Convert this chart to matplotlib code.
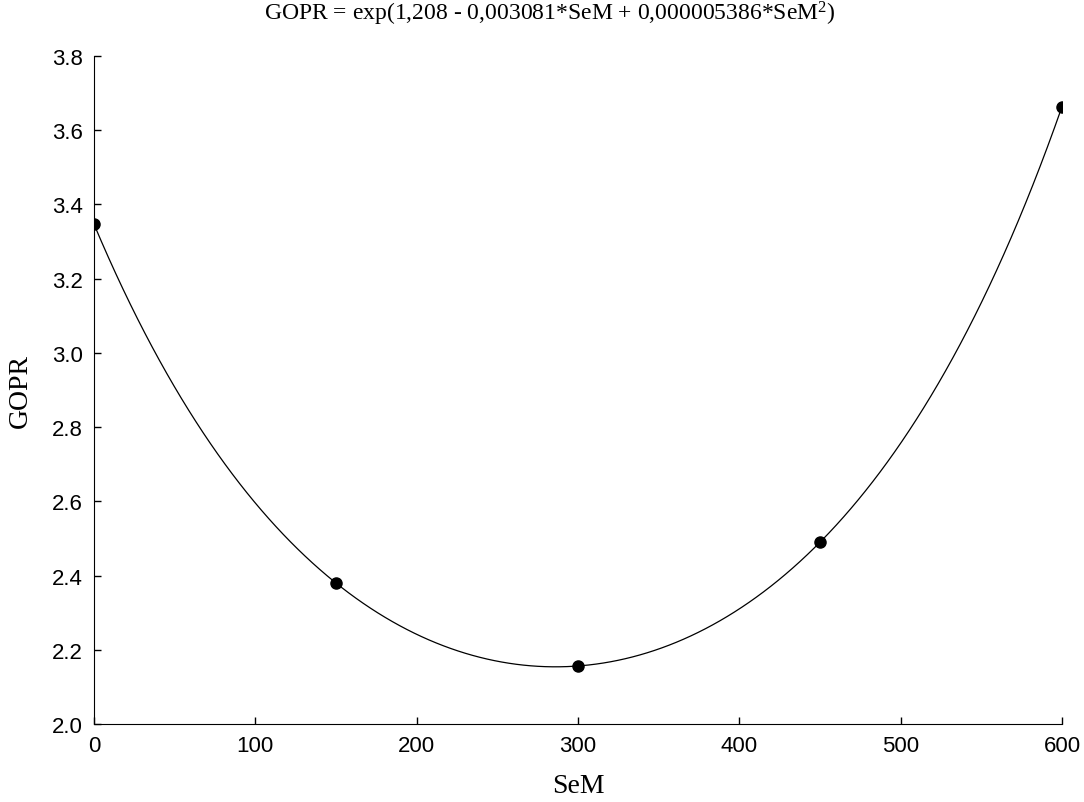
import numpy as np
import matplotlib
matplotlib.use("Agg")
import matplotlib.pyplot as plt

# observed points
sem = [0, 150, 300, 450, 600]
gopr = [3.347, 2.380, 2.157, 2.490, 3.663]

# fitted model coefficients (from the title)
b0, b1, b2 = 1.208, -0.003081, 0.000005386

xticks = [0, 100, 200, 300, 400, 500, 600]
yticks = [2.0, 2.2, 2.4, 2.6, 2.8, 3.0, 3.2, 3.4, 3.6, 3.8]

plt.rcParams["mathtext.fontset"] = "custom"
plt.rcParams["mathtext.rm"] = "Liberation Serif"
plt.rcParams["mathtext.it"] = "Liberation Serif"

fig = plt.figure(figsize=(10.84, 8.03), dpi=100)
ax = fig.add_axes([0.0867, 0.0971, 0.893, 0.832])

xs = np.linspace(0, 600, 400)
ax.plot(xs, np.exp(b0 + b1 * xs + b2 * xs ** 2), color="black", lw=0.9)
ax.plot(sem, gopr, "o", color="black", ms=8)

ax.set_xlim(0, 600)
ax.set_ylim(2.0, 3.8)
ax.set_xticks(xticks)
ax.set_yticks(yticks)
ax.set_yticklabels(["%.1f" % v for v in yticks])
ax.spines["top"].set_visible(False)
ax.spines["right"].set_visible(False)
ax.tick_params(direction="in", length=5, width=1, labelsize=16, pad=8)
for lab in ax.get_xticklabels() + ax.get_yticklabels():
    lab.set_fontfamily("Liberation Sans")

serif = "Liberation Serif"
ax.set_xlabel("SeM", fontsize=20, family=serif, labelpad=12)
ax.set_ylabel("GOPR", fontsize=20, family=serif, labelpad=14)
fig.text(0.507, 0.983,
         r"GOPR = exp(1,208 - 0,003081*SeM + 0,000005386*SeM$\mathrm{^2}$)",
         fontsize=17, family=serif, ha="center", va="center")

fig.savefig("out.png", dpi=100)
